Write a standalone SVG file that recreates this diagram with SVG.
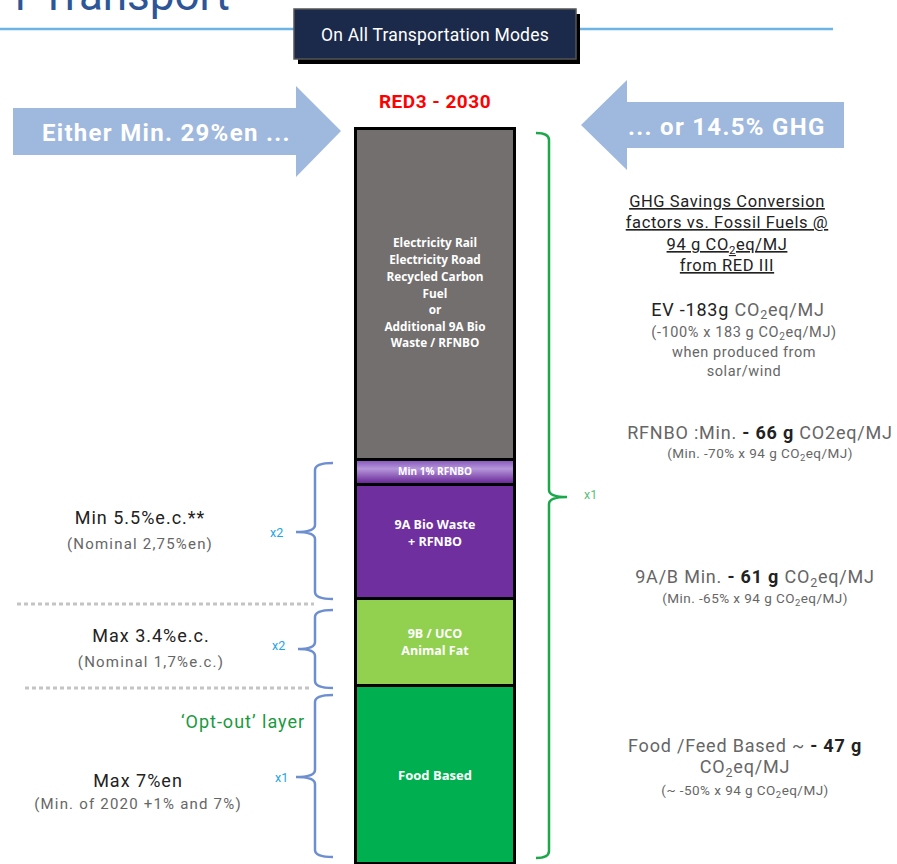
<svg xmlns="http://www.w3.org/2000/svg" width="897" height="864" viewBox="0 0 897 864">
<defs>
<linearGradient id="rfnbo" x1="0" y1="0" x2="0" y2="1">
<stop offset="0" stop-color="#8a5cbf"/>
<stop offset="0.35" stop-color="#b596da"/>
<stop offset="1" stop-color="#6a2a98"/>
</linearGradient>
<style>
text{font-family:Roboto,"Liberation Sans",sans-serif}
.seg{font-family:"Open Sans","Liberation Sans",sans-serif;font-weight:bold;fill:#fff;text-anchor:middle}
.big{font-size:18px;fill:#222;text-anchor:middle;letter-spacing:1px}
.sub{font-size:15px;fill:#666;text-anchor:middle;letter-spacing:1.2px}
.rt{font-size:18px;fill:#666;text-anchor:middle;letter-spacing:0.8px}
.rs{font-size:13.5px;fill:#666;text-anchor:middle;letter-spacing:0.45px}
.ev{font-size:14.5px;fill:#666;text-anchor:middle;letter-spacing:0.6px}
.dk{fill:#222;font-weight:bold}
.hd{font-size:16.5px;fill:#222;text-anchor:middle;text-decoration:underline;letter-spacing:0.6px}
.brB{fill:none;stroke:#6d8fd0;stroke-width:2.5}
.brG{fill:none;stroke:#1aa84a;stroke-width:2.5}
.xb{font-size:12.5px;fill:#1ea5e6}
.dot{stroke:#c4c4c4;stroke-width:3;stroke-dasharray:4 3}
.arrow{fill:#9fb8dd}
.at{font-size:24px;font-weight:bold;fill:#fff;letter-spacing:1.3px}
</style>
</defs>
<rect width="897" height="864" fill="#fff"/>

<g id="title">
<text x="230" y="10" text-anchor="end" font-size="44" fill="#2e5597">r Transport</text>
<line x1="0" y1="29" x2="294" y2="29" stroke="#6cb4e4" stroke-width="2.5"/>
<line x1="575" y1="29" x2="833" y2="29" stroke="#6cb4e4" stroke-width="2.5"/>
</g>

<g id="modes-box">
<rect x="298" y="14" width="282" height="50" fill="#000"/>
<rect x="294" y="9" width="282" height="50" fill="#1b2a4a" stroke="#555" stroke-width="1.5"/>
<text x="435" y="41" text-anchor="middle" font-size="17.5" fill="#fff" letter-spacing="0.2">On All Transportation Modes</text>
</g>

<g id="arrow-left">
<polygon class="arrow" points="13,108 296,108 296,86 341,131 296,177 296,155 13,155"/>
<text class="at" x="42" y="141">Either Min. 29%en ...</text>
</g>

<g id="arrow-right">
<polygon class="arrow" points="844,102 627,102 627,80 581,125 627,170 627,148 844,148"/>
<text class="at" x="628" y="135" letter-spacing="1">... or 14.5% GHG</text>
</g>

<text x="435" y="108" text-anchor="middle" font-size="19" font-weight="bold" fill="#ff0000" letter-spacing="0.5">RED3 - 2030</text>

<g id="column">
<rect x="354" y="127" width="162" height="737" fill="#000"/>
<g id="seg-gray">
<rect x="357" y="130" width="156" height="328" fill="#736f6e"/>
<text class="seg" font-size="11.8"><tspan x="435" y="247">Electricity Rail</tspan><tspan x="435" y="264">Electricity Road</tspan><tspan x="435" y="281">Recycled Carbon</tspan><tspan x="435" y="298">Fuel</tspan><tspan x="435" y="314">or</tspan><tspan x="435" y="331">Additional 9A Bio</tspan><tspan x="435" y="347">Waste  / RFNBO</tspan></text>
</g>
<g id="seg-rfnbo">
<rect x="357" y="461" width="156" height="22" fill="url(#rfnbo)"/>
<text class="seg" font-size="10" x="435" y="475">Min 1% RFNBO</text>
</g>
<g id="seg-9a">
<rect x="357" y="486" width="156" height="111" fill="#6f2f9f"/>
<text class="seg" font-size="12.5"><tspan x="435" y="529">9A Bio Waste</tspan><tspan x="435" y="546">+ RFNBO</tspan></text>
</g>
<g id="seg-9b">
<rect x="357" y="600" width="156" height="84" fill="#92d050"/>
<text class="seg" font-size="12.5"><tspan x="435" y="638">9B / UCO</tspan><tspan x="435" y="655">Animal Fat</tspan></text>
</g>
<g id="seg-food">
<rect x="357" y="687" width="156" height="175" fill="#00b050"/>
<text class="seg" font-size="13" x="435" y="780">Food Based</text>
</g>
</g>

<g id="connectors">
<path class="brG" d="M536,133 Q549,133 549,140 L549,490 Q549,497 567,497 Q549,497 549,504 L549,851 Q549,858 536,858"/>
<path class="brB" d="M333,463 Q315,463 315,470 L315,525 Q315,532 296,532 Q315,532 315,539 L315,592 Q315,599 333,599"/>
<path class="brB" d="M333,610 Q315,610 315,617 L315,642 Q315,649 298,649 Q315,649 315,656 L315,681 Q315,688 333,688"/>
<path class="brB" d="M333,695 Q315,695 315,702 L315,770 Q315,777 296,777 Q315,777 315,784 L315,850 Q315,857 333,857"/>
<line class="dot" x1="17" y1="604" x2="314" y2="604"/>
<line class="dot" x1="25" y1="688" x2="310" y2="688"/>
</g>

<text x="584" y="499" font-size="12.5" fill="#5cc07a">x1</text>
<text class="xb" x="270" y="537">x2</text>
<text class="xb" x="272" y="650">x2</text>
<text class="xb" x="275" y="782">x1</text>

<g id="left-labels">
<text class="big" x="140" y="524">Min 5.5%e.c.**</text>
<text class="sub" x="140" y="549">(Nominal 2,75%en)</text>
<text class="big" x="151" y="642">Max 3.4%e.c.</text>
<text class="sub" x="151" y="667">(Nominal 1,7%e.c.)</text>
<text x="243" y="728" text-anchor="middle" font-size="18" letter-spacing="1" fill="#1a9a40">‘Opt-out’ layer</text>
<text class="big" x="138" y="787">Max 7%en</text>
<text class="sub" x="138" y="809">(Min. of 2020 +1% and 7%)</text>
</g>

<g id="right-labels">
<text class="hd" x="727" y="207">GHG Savings Conversion</text>
<text class="hd" x="727" y="228">factors vs. Fossil Fuels @</text>
<text class="hd" x="727" y="250">94 g CO<tspan font-size="11.5" dy="4">2</tspan><tspan dy="-4">eq/MJ</tspan></text>
<text class="hd" x="727" y="271">from RED III</text>

<text class="rt" x="738" y="316" font-size="19" letter-spacing="1"><tspan fill="#222">EV -183g</tspan> CO<tspan font-size="12.5" dy="3">2</tspan><tspan dy="-3">eq/MJ</tspan></text>
<text class="ev" x="744" y="337">(-100% x 183 g CO<tspan font-size="10" dy="3">2</tspan><tspan dy="-3">eq/MJ)</tspan></text>
<text class="ev" x="744" y="357">when produced from</text>
<text class="ev" x="744" y="376">solar/wind</text>

<text class="rt" x="760" y="439">RFNBO :Min. <tspan class="dk">- 66 g</tspan> CO2eq/MJ</text>
<text class="rs" x="760" y="458">(Min. -70% x 94 g CO<tspan font-size="9.5" dy="3">2</tspan><tspan dy="-3">eq/MJ)</tspan></text>

<text class="rt" x="755" y="583">9A/B Min. <tspan class="dk">- 61 g</tspan> CO<tspan font-size="12.5" dy="4">2</tspan><tspan dy="-4">eq/MJ</tspan></text>
<text class="rs" x="755" y="603">(Min. -65% x 94 g CO<tspan font-size="9.5" dy="3">2</tspan><tspan dy="-3">eq/MJ)</tspan></text>

<text class="rt" x="745" y="752">Food /Feed Based ~ <tspan class="dk">- 47 g</tspan></text>
<text class="rt" x="745" y="773">CO<tspan font-size="12.5" dy="4">2</tspan><tspan dy="-4">eq/MJ</tspan></text>
<text class="rs" x="745" y="795">(~ -50% x 94 g CO<tspan font-size="9.5" dy="3">2</tspan><tspan dy="-3">eq/MJ)</tspan></text>
</g>
</svg>
